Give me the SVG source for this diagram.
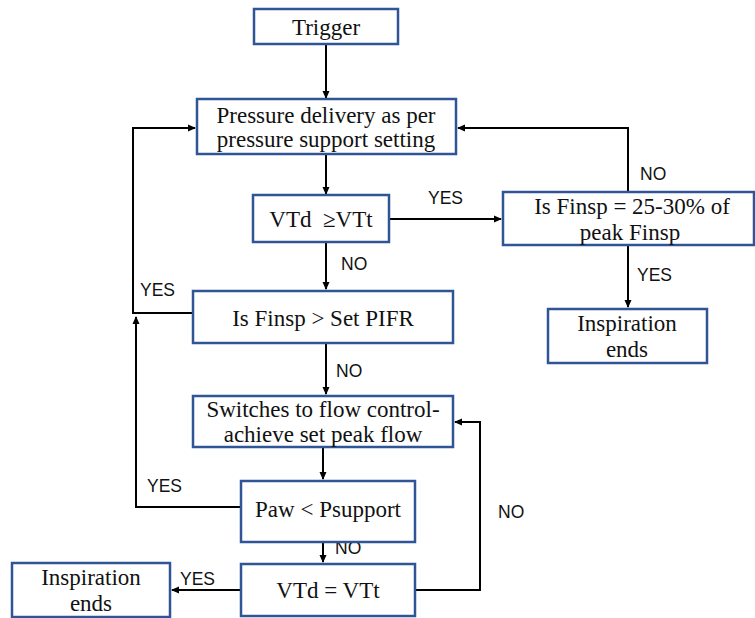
<svg xmlns="http://www.w3.org/2000/svg" width="755" height="618" viewBox="0 0 755 618">
  <style>
    .box { fill: #ffffff; stroke: #2f5597; stroke-width: 2.5; }
    .t { font-family: "Liberation Serif", "Times New Roman", serif; font-size: 23px; fill: #111; text-anchor: middle; }
    .lbl { font-family: "Liberation Sans", Arial, sans-serif; font-size: 17.5px; fill: #111; }
    .ln { fill: none; stroke: #000; stroke-width: 2; }
    .arr { fill: none; stroke: #000; stroke-width: 2; marker-end: url(#ah); }
  </style>
  <defs>
    <marker id="ah" markerWidth="8" markerHeight="8" refX="7" refY="4" orient="auto" markerUnits="userSpaceOnUse">
      <path d="M0,0.5 L8,4 L0,7.5 Z" fill="#000"/>
    </marker>
  </defs>
  <rect width="755" height="618" fill="#ffffff"/>

  <g id="connectors">
    <path class="arr" d="M326,44 V98"/>
    <path class="arr" d="M326,154 V194"/>
    <path class="arr" d="M389,219 H501"/>
    <path class="arr" d="M628,192 V128 H458"/>
    <path class="arr" d="M628,245 V307"/>
    <path class="arr" d="M326,242 V289"/>
    <path class="arr" d="M193,313 H133 V128 H195"/>
    <path class="arr" d="M326,343 V394"/>
    <path class="arr" d="M323,447 V479"/>
    <path class="arr" d="M241,507 H136 V317"/>
    <path class="arr" d="M323,542 V562"/>
    <path class="arr" d="M415,590 H480 V422 H455"/>
    <path class="arr" d="M241,590 H172"/>
    <text class="lbl" x="428" y="204">YES</text>
    <text class="lbl" x="640" y="180">NO</text>
    <text class="lbl" x="637" y="281">YES</text>
    <text class="lbl" x="341" y="270">NO</text>
    <text class="lbl" x="140" y="296">YES</text>
    <text class="lbl" x="336" y="377">NO</text>
    <text class="lbl" x="147" y="492">YES</text>
    <text class="lbl" x="498" y="518">NO</text>
    <text class="lbl" x="335" y="554">NO</text>
    <text class="lbl" x="180" y="585">YES</text>
  </g>

  <g id="trigger">
    <rect class="box" x="254" y="9" width="144" height="35"/>
    <text class="t" x="326" y="35">Trigger</text>
  </g>
  <g id="pressure-delivery">
    <rect class="box" x="197" y="99" width="259" height="55"/>
    <text class="t" x="326" y="123">Pressure delivery as per</text>
    <text class="t" x="326" y="147">pressure support setting</text>
  </g>
  <g id="vtd-ge-vtt">
    <rect class="box" x="253" y="195" width="136" height="47"/>
    <text class="t" x="321" y="227">VTd &#160;≥VTt</text>
  </g>
  <g id="finsp-percent">
    <rect class="box" x="503" y="192" width="251" height="53"/>
    <text class="t" x="632" y="214">Is Finsp = 25-30% of</text>
    <text class="t" x="630" y="240">peak Finsp</text>
  </g>
  <g id="inspiration-ends-right">
    <rect class="box" x="548" y="309" width="159" height="54"/>
    <text class="t" x="627" y="331">Inspiration</text>
    <text class="t" x="627" y="357">ends</text>
  </g>
  <g id="finsp-pifr">
    <rect class="box" x="193" y="291" width="260" height="52"/>
    <text class="t" x="323" y="326">Is Finsp &gt; Set PIFR</text>
  </g>
  <g id="flow-control">
    <rect class="box" x="193" y="396" width="260" height="51"/>
    <text class="t" x="323" y="417">Switches to flow control-</text>
    <text class="t" x="323" y="442">achieve set peak flow</text>
  </g>
  <g id="paw-psupport">
    <rect class="box" x="241" y="481" width="174" height="61"/>
    <text class="t" x="328" y="517">Paw &lt; Psupport</text>
  </g>
  <g id="vtd-eq-vtt">
    <rect class="box" x="241" y="564" width="174" height="52"/>
    <text class="t" x="328" y="598">VTd = VTt</text>
  </g>
  <g id="inspiration-ends-left">
    <rect class="box" x="12" y="563" width="158" height="54"/>
    <text class="t" x="91" y="585">Inspiration</text>
    <text class="t" x="91" y="611">ends</text>
  </g>
</svg>
